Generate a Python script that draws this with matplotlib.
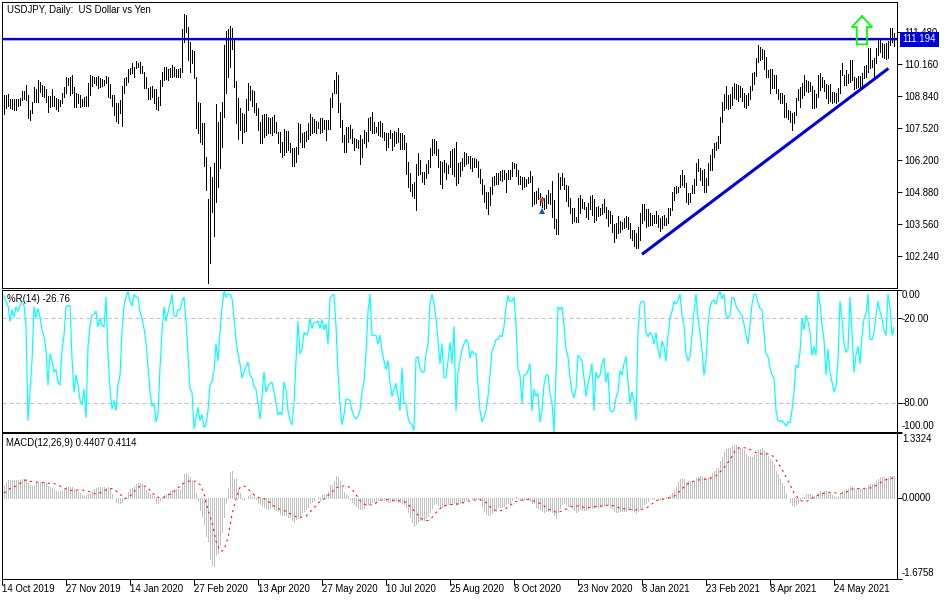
import matplotlib
matplotlib.use("Agg")
import matplotlib.pyplot as plt
import numpy as np

plt.rcParams['font.family'] = ['Liberation Sans', 'DejaVu Sans']

highs_a = [108.88,108.88,108.92,108.73,108.70,108.70,108.73,108.73,108.75,109.05,109.05,109.29,108.88,108.26,108.60,109.19,109.11,109.49,109.42,109.29,
109.25,109.11,108.83,108.83,109.11,108.83,108.74,108.70,108.67,108.94,109.19,109.60,109.56,109.63,109.70,109.19,108.97,108.92,108.88,108.70,
108.78,108.83,109.36,109.70,109.66,109.63,109.63,109.66,109.56,109.52,109.49,109.66,109.60,109.33,108.88,108.88,108.53,108.56,108.67,109.25,
109.56,109.63,109.93,109.97,110.18,110.04,110.27,110.21,110.25,110.07,109.83,109.60,109.15,109.19,109.25,109.11,109.11,108.78,109.49,109.83,
110.01,110.04,109.93,109.97,110.10,110.04,109.93,109.96,109.97,111.57,112.20,112.16,111.66,111.07,110.73,110.70,109.63,108.60,108.53,107.71,
107.74,106.34,104.60,105.93,105.52,106.10,108.51,107.78,108.19,108.60,110.93,111.52,111.57,111.71,111.62,111.14,109.46,108.74,108.33,108.12,
108.09,108.70,109.36,109.25,109.08,109.05,108.53,108.33,107.78,108.05,108.09,108.09,107.99,107.92,107.99,108.05,107.78,107.37,107.37,106.96,
107.47,107.41,107.41,106.89,106.68,106.68,106.75,107.74,107.68,107.30,107.37,107.41,107.71,108.08,107.99,107.88,107.82,107.78]
lows_a = [108.10,108.33,108.42,108.33,108.29,108.26,108.26,108.42,108.45,108.67,108.70,108.67,107.92,107.85,108.15,108.60,108.60,108.60,109.01,108.83,
108.81,108.60,108.19,108.37,108.42,108.42,108.29,108.23,108.42,108.56,108.81,108.94,109.29,108.88,108.94,108.40,108.40,108.53,108.40,108.42,
108.42,108.42,108.42,108.88,109.25,109.36,109.29,109.15,109.22,109.25,109.29,109.36,108.81,108.74,108.42,108.05,107.82,107.74,108.12,107.60,
108.94,109.29,109.42,109.74,109.77,109.63,109.97,110.04,109.77,109.77,109.15,109.15,108.70,108.70,108.81,108.53,108.29,108.26,108.46,109.25,
109.49,109.52,109.49,109.63,109.60,109.66,109.60,109.63,109.63,109.83,111.07,111.48,110.31,109.83,110.18,109.56,107.51,107.33,106.96,106.86,
105.96,104.97,101.16,101.99,104.08,103.08,104.49,105.11,105.86,106.73,107.96,108.94,109.63,110.04,110.75,109.19,107.74,107.05,107.44,106.89,
107.37,107.41,108.26,108.67,108.42,108.19,108.05,107.44,106.92,106.92,107.14,107.23,107.30,107.30,107.23,107.37,107.30,106.92,106.55,106.34,
106.41,106.55,106.62,106.55,105.96,105.96,106.14,106.45,106.96,106.73,106.75,107.00,107.05,107.23,107.30,107.37,107.30,107.51]

highs_b = [107.92,107.92,107.87,107.87,107.85,108.74,108.94,109.49,109.82,109.70,108.53,107.85,107.23,107.55,107.55,107.64,107.46,107.09,107.05,
107.03,107.23,107.05,107.44,107.37,107.92,107.98,108.18,107.78,107.57,107.78,107.82,107.74,107.37,107.30,107.33,107.44,107.33,107.41,107.37,
107.51,107.33,107.30,107.23,106.89,106.13,105.66,105.24,105.31,106.04,106.48,106.20,105.72,105.72,106.04,106.20,106.68,107.05,107.05,107.00,
106.64,106.18,106.13,106.20,106.09,106.00,106.57,106.64,106.68,106.93,106.07,106.13,106.27,106.52,106.48,106.37,106.37,106.29,106.27,106.23,
106.16,105.82,105.41,105.18,104.90,104.90,105.08,105.49,105.55,105.68,105.66,105.77,105.79,105.79,105.66,105.79,105.79,106.12,106.09,106.04,
105.79,105.55,105.49,105.49,105.41,105.49,105.77,105.55,104.90,104.94,105.04,104.86,104.70,104.63,104.77,104.97,104.83,105.35,104.56,103.77,
105.66,105.49,105.66,105.45,105.18,105.14,104.63,104.23,104.23,103.87,104.66,104.77,104.59,104.49,104.29,104.45,104.72,104.77,104.59,104.26,
104.31,104.22,104.40,104.59,104.29,104.15,104.12,103.94,103.57,103.60,103.90,103.71,103.67,103.81,103.90,103.85,103.60,103.33,103.33,103.19,103.46]
lows_b = [107.33,107.37,107.46,107.03,107.46,107.46,108.40,108.97,108.97,108.19,107.57,106.96,106.55,106.55,106.96,107.09,106.92,106.61,106.72,
106.68,106.04,106.34,106.92,106.75,107.00,107.44,107.33,107.30,107.37,107.23,107.19,107.16,107.03,106.61,106.75,107.09,106.61,106.78,106.92,
106.96,106.64,106.64,106.64,105.63,105.11,104.93,104.72,104.64,104.15,105.59,105.63,105.31,105.24,105.45,105.66,105.93,106.41,106.51,106.41,
105.93,105.24,105.07,105.72,105.41,105.68,105.90,105.63,105.55,105.18,105.27,105.55,105.79,105.96,106.04,106.07,105.86,105.75,105.90,105.90,
105.52,105.27,104.81,104.49,104.22,103.98,104.35,104.81,105.18,105.22,105.22,105.38,105.35,105.41,104.90,105.41,105.41,105.55,105.86,105.55,
105.22,105.22,105.03,105.08,105.14,105.27,105.31,104.31,104.40,104.45,104.59,104.35,104.29,104.18,104.22,104.42,104.40,103.87,103.40,103.16,
103.16,105.00,105.18,105.00,104.53,104.31,104.04,103.63,103.71,103.67,103.67,104.04,104.22,104.18,103.87,103.77,104.18,103.94,103.67,103.74,
103.90,103.94,103.98,104.08,103.81,103.49,103.63,103.26,102.83,102.98,103.22,103.26,103.35,103.40,103.44,103.35,102.98,102.92,102.67,102.57,102.57]

highs_c = [104.01,104.40,104.40,104.18,104.18,104.04,103.94,103.94,104.12,103.94,103.81,103.90,103.94,103.81,104.22,104.22,104.90,105.08,105.14,105.11,
105.59,105.79,105.59,105.25,104.83,104.86,105.18,105.41,106.07,106.23,105.86,105.79,105.82,105.45,106.10,106.41,106.64,106.89,106.96,107.19,
107.96,108.60,108.92,109.25,108.88,108.92,109.19,109.36,109.33,109.29,109.25,109.15,108.94,108.88,108.94,109.25,109.79,109.83,110.38,110.93,
110.83,110.75,110.73,110.45,109.90,109.93,109.93,109.70,109.70,109.11,108.97,108.94,108.88,108.56,108.26,108.23,108.15,108.19,108.74,109.11,
109.22,109.36,109.70,109.49,109.47,109.42,109.25,109.08,108.92,109.70,109.77,109.63,109.49,109.33,109.29,109.33,109.01,109.01,108.94,109.15,
109.90,110.20,109.70,109.90,109.74,110.31,110.31,109.60,109.56,109.66,109.66,109.79,110.07,110.11,110.79,110.79,110.31,110.38,110.79,111.14,
111.20,111.00,110.97,111.03,111.11,111.62,111.62,111.41]
lows_c = [102.92,103.60,103.74,103.47,103.49,103.53,103.53,103.60,103.63,103.47,103.30,103.40,103.53,103.53,103.60,103.94,104.15,104.56,104.83,104.90,
105.11,105.18,105.11,104.49,104.40,104.49,104.83,104.86,105.18,105.77,105.38,105.18,104.90,104.90,105.18,105.79,105.79,106.34,106.62,106.68,
106.92,107.78,108.26,108.33,108.29,108.33,108.46,108.74,108.70,108.64,108.81,108.64,108.40,108.33,108.46,108.70,109.08,109.33,109.66,110.25,
110.31,110.34,109.93,109.60,109.60,108.97,109.15,109.15,108.97,108.70,108.53,108.56,107.99,107.96,107.88,107.78,107.44,107.74,108.05,108.67,
108.40,108.74,108.88,109.05,109.01,109.05,108.33,108.33,108.40,108.78,109.08,109.19,109.05,108.74,108.56,108.64,108.53,108.60,108.53,108.64,
108.97,109.70,109.29,109.29,109.36,109.42,109.49,109.11,109.15,109.19,109.15,109.29,109.56,109.60,109.83,109.97,110.04,109.66,110.18,110.52,
110.66,110.45,110.38,110.34,110.38,110.93,111.07,110.89]

highs = highs_a + highs_b + highs_c
lows = lows_a + lows_b + lows_c

wpr_a = [-4,-8,-11,-22,-14,-19,-12,-15,-11,-8,-11,-25,-92,-72,-50,-12,-20,-13,-19,-28,-33,-42,-67,-45,-50,-58,-56,-65,-67,-43,-32,-12,-11,-11,-48,-72,-60,-67,-78,-81,
-70,-90,-40,-25,-18,-17,-15,-26,-20,-25,-26,-5,-45,-70,-84,-78,-85,-67,-60,-30,-11,-5,-1,-8,-11,-3,-5,-5,-15,-20,-27,-37,-55,-72,-82,-80,-93,-88,-55,-30,
-12,-22,-16,-10,-3,-18,-19,-14,-14,-8,-5,-22,-45,-70,-72,-98,-90,-83,-92,-88,-97,-95,-85,-67,-65,-57,-38,-50,-30,-12,-1,-5,-3,-3,-6,-20,-35,-45,-52,-62,
-58,-54,-51,-60,-62,-68,-70,-80,-91,-75,-58,-72,-68,-66,-65,-72,-80,-88,-86,-88,-65,-70,-85,-92,-95,-80,-50,-22,-45,-42,-30,-32,-30,-20,-27,-23,-23,-22]
wpr_b = [-27,-21,-28,-24,-38,-6,-4,-3,-25,-58,-80,-95,-88,-77,-77,-78,-85,-89,-91,-89,-85,-72,-65,-45,-15,-3,-32,-32,-32,-38,-32,-43,-50,-56,-50,-65,-75,-70,-66,-75,
-85,-55,-80,-80,-90,-94,-95,-99,-48,-47,-55,-58,-58,-45,-38,-10,-3,-10,-20,-35,-52,-38,-62,-62,-50,-37,-52,-26,-85,-58,-50,-42,-38,-35,-37,-48,-43,-45,-45,-68,
-85,-93,-90,-85,-75,-60,-43,-40,-35,-35,-32,-33,-26,-12,-4,-8,-8,-5,-25,-56,-60,-80,-60,-60,-57,-52,-85,-70,-75,-73,-93,-85,-67,-60,-60,-73,-80,-100,-60,-12,
-14,-12,-25,-42,-47,-62,-72,-76,-70,-46,-48,-50,-62,-75,-66,-60,-52,-85,-58,-62,-60,-52,-48,-65,-58,-85,-86,-85,-76,-72,-57,-60,-52,-47,-65,-80,-72,-78,-92,-30]
wpr_c = [-10,-8,-8,-30,-33,-30,-32,-38,-30,-42,-48,-36,-40,-50,-32,-20,-15,-8,-10,-7,-3,-18,-25,-45,-50,-47,-32,-15,-3,-20,-30,-42,-60,-50,-25,-12,-8,-7,-10,-4,
-1,-6,-3,-18,-20,-18,-5,-6,-11,-14,-16,-18,-24,-32,-38,-25,-10,-3,-3,-9,-13,-14,-30,-45,-47,-55,-60,-62,-85,-92,-93,-92,-94,-96,-93,-94,-85,-72,-53,-55,
-44,-20,-28,-18,-22,-30,-46,-40,-46,-1,-10,-25,-35,-60,-42,-58,-65,-72,-68,-50,-8,-20,-38,-44,-42,-5,-30,-58,-46,-40,-52,-33,-20,-17,-3,-35,-35,-30,-18,-8,
-15,-20,-28,-32,-3,-12,-32,-26.76]
wpr = wpr_a + wpr_b + wpr_c

hist_a = [.27,.32,.36,.36,.36,.36,.36,.36,.36,.38,.38,.38,.31,.26,.24,.27,.31,.32,.32,.33,.33,.30,.24,.21,.19,.16,.14,.12,.14,.15,.17,.21,.23,.25,.23,.17,.15,.12,.09,.05,
.03,.05,.08,.10,.14,.17,.19,.21,.21,.22,.21,.19,.21,.19,.07,.00,-.08,-.12,-.10,-.08,-.03,-.01,.11,.17,.20,.25,.29,.31,.30,.28,.21,.15,.11,.08,.06,.03,-.10,-.10,-.05,.02,
.06,.08,.10,.13,.15,.17,.17,.17,.15,.30,.48,.50,.47,.42,.37,.33,.10,-.06,-.25,-.38,-.55,-.80,-.90,-1.27,-1.38,-1.40,-1.18,-1.15,-.98,-.70,-.40,-.10,.20,.52,.54,.38,.38,.18,.10,-.03,
-.05,-.01,.04,.06,.02,.05,-.02,-.10,-.13,-.18,-.20,-.22,-.23,-.22,-.20,-.23,-.25,-.28,-.32,-.35,-.36,-.36,-.39,-.40,-.46,-.50,-.43,-.42,-.37,-.30,-.27,-.23,-.20,-.12,-.08,-.04,.00,.02]
hist_b = [-.05,.05,.07,.08,.12,.26,.27,.34,.44,.43,.34,.21,.12,.05,.03,-.03,-.09,-.14,-.17,-.22,-.24,-.23,-.22,-.16,-.14,-.10,-.08,-.09,-.09,-.05,-.03,-.03,-.05,-.06,-.08,-.08,-.07,-.06,-.07,-.08,
-.09,-.10,-.13,-.19,-.29,-.39,-.50,-.58,-.55,-.50,-.47,-.46,-.45,-.42,-.38,-.30,-.22,-.13,-.10,-.15,-.20,-.19,-.17,-.15,-.14,-.13,-.13,-.12,-.15,-.13,-.11,-.10,-.07,-.05,-.03,-.01,-.03,-.03,-.02,-.03,
-.05,-.18,-.28,-.34,-.36,-.36,-.32,-.28,-.27,-.20,-.19,-.20,-.17,-.14,-.12,-.10,-.04,-.01,.01,-.02,-.04,-.05,-.05,-.03,-.02,-.06,-.10,-.12,-.19,-.21,-.23,-.27,-.29,-.28,-.27,-.28,-.29,-.35,-.42,-.30,
-.21,-.14,-.11,-.13,-.18,-.18,-.22,-.25,-.29,-.27,-.24,-.26,-.26,-.25,-.23,-.20,-.22,-.22,-.20,-.19,-.19,-.20,-.18,-.16,-.16,-.19,-.22,-.28,-.29,-.29,-.28,-.28,-.27,-.27,-.25,-.24,-.26,-.27,-.31,-.27]
hist_c = [-.22,-.19,-.14,-.10,-.07,-.01,-.02,-.03,.00,-.02,-.04,-.02,.00,.01,.02,.05,.10,.15,.21,.32,.38,.40,.39,.33,.34,.35,.34,.34,.40,.43,.45,.45,.43,.41,.41,.45,.50,.55,.59,.62,
.75,.83,.95,1.00,1.02,1.03,1.07,1.08,1.08,1.05,1.03,1.00,.98,.89,.85,.83,.84,.87,.90,.99,1.00,1.02,.98,.95,.85,.80,.76,.68,.55,.48,.38,.30,.25,.07,.00,-.09,-.16,-.17,-.15,-.12,
-.03,.01,.02,.07,.08,.08,.06,.03,.04,.10,.14,.12,.14,.13,.10,.10,.06,.03,.01,.04,.07,.13,.15,.17,.18,.24,.22,.19,.18,.19,.17,.17,.18,.19,.27,.29,.29,.30,.34,.39,
.42,.42,.42,.40,.40,.44,.44,.44]
macd_hist = hist_a + hist_b + hist_c

sig_a = [.10,.12,.15,.19,.20,.22,.24,.26,.29,.33,.36,.36,.35,.34,.33,.32,.32,.32,.31,.31,.31,.30,.30,.29,.29,.29,.28,.26,.24,.22,.20,.18,.16,.15,.15,.15,.15,.16,.16,.16,
.15,.14,.13,.12,.10,.08,.08,.08,.10,.13,.14,.16,.17,.18,.19,.18,.14,.10,.07,.03,.01,-.02,.00,.03,.07,.12,.17,.20,.24,.24,.24,.23,.20,.15,.10,.07,.02,.01,.00,.00,
.01,.04,.06,.07,.10,.13,.15,.20,.24,.27,.30,.33,.34,.34,.34,.34,.34,.30,.27,.18,.08,-.10,-.25,-.38,-.52,-.70,-.90,-1.00,-1.09,-1.10,-1.08,-.96,-.82,-.58,-.35,-.18,-.03,.10,.21,.24,
.24,.22,.18,.14,.10,.06,.03,.01,-.01,-.02,-.02,-.04,-.07,-.10,-.14,-.17,-.20,-.22,-.24,-.25,-.26,-.29,-.31,-.33,-.35,-.37,-.39,-.41,-.41,-.40,-.39,-.38,-.34,-.30,-.25,-.21,-.16,-.12]
sig_b = [-.08,-.05,-.03,.01,.05,.07,.12,.15,.19,.22,.24,.24,.24,.24,.24,.20,.17,.12,.07,.00,-.06,-.10,-.13,-.15,-.16,-.15,-.15,-.14,-.11,-.09,-.06,-.05,-.04,-.04,-.04,-.05,-.05,-.06,-.06,-.06,
-.07,-.07,-.08,-.10,-.14,-.18,-.22,-.27,-.31,-.36,-.42,-.44,-.46,-.47,-.47,-.44,-.41,-.36,-.31,-.26,-.23,-.19,-.17,-.16,-.15,-.14,-.14,-.14,-.13,-.13,-.12,-.11,-.10,-.08,-.07,-.07,-.06,-.05,-.05,-.04,
-.04,-.06,-.08,-.10,-.15,-.19,-.22,-.25,-.26,-.27,-.27,-.26,-.24,-.22,-.19,-.16,-.13,-.10,-.08,-.07,-.06,-.05,-.04,-.04,-.04,-.04,-.06,-.07,-.09,-.10,-.12,-.14,-.17,-.20,-.23,-.25,-.26,-.28,-.30,-.31,
-.29,-.27,-.25,-.24,-.22,-.20,-.18,-.17,-.17,-.17,-.18,-.19,-.20,-.21,-.21,-.20,-.19,-.19,-.18,-.18,-.17,-.17,-.16,-.16,-.15,-.15,-.16,-.17,-.19,-.20,-.21,-.22,-.23,-.24,-.24,-.24,-.25,-.25,-.25,-.25]
sig_c = [-.24,-.24,-.23,-.21,-.19,-.17,-.13,-.09,-.06,-.05,-.04,-.03,-.03,-.02,-.01,.00,.01,.03,.06,.10,.14,.18,.22,.26,.29,.32,.33,.34,.35,.36,.37,.37,.38,.38,.39,.40,.41,.43,.45,.48,
.53,.57,.62,.67,.73,.79,.85,.93,.99,1.02,1.03,1.03,1.03,1.02,1.01,.99,.97,.95,.93,.91,.91,.90,.90,.90,.90,.90,.87,.83,.78,.72,.65,.58,.50,.43,.35,.27,.19,.10,.05,-.01,
-.05,-.07,-.08,-.08,-.06,-.04,-.01,.01,.03,.05,.07,.08,.09,.10,.11,.11,.11,.10,.10,.09,.09,.09,.10,.11,.13,.15,.18,.18,.18,.19,.19,.19,.19,.20,.20,.20,.21,.23,.25,.27,
.30,.33,.35,.37,.38,.39,.40,.41]
macd_signal = sig_a + sig_b + sig_c

date_labels = ['14 Oct 2019','27 Nov 2019','14 Jan 2020','27 Feb 2020','13 Apr 2020','27 May 2020','10 Jul 2020',
               '25 Aug 2020','8 Oct 2020','23 Nov 2020','8 Jan 2021','23 Feb 2021','8 Apr 2021','24 May 2021']
date_idx = [-1 + 32*k for k in range(14)]
price_ticks = [111.48,110.16,108.84,107.52,106.20,104.88,103.56,102.24]
last_price = 111.194
trend_x = [319, 442.2]
trend_y = [102.33, 109.97]
wpr_ticks = [0,-20,-80,-100]
macd_max, macd_min = 1.3324, -1.6758

W, H = 950, 600
fig = plt.figure(figsize=(9.5, 6), dpi=100, facecolor='white')
def mk(top, bot, left=2, right=897):
    ax = fig.add_axes([left/W, 1-bot/H, (right-left)/W, (bot-top)/H])
    ax.set_xlim(-1, 446.5)
    ax.set_xticks([]); ax.yaxis.tick_right()
    for s in ax.spines.values():
        s.set_linewidth(0.72); s.set_color('black')
    ax.tick_params(axis='y', length=3.5, width=0.72, pad=2, labelsize=6.9, colors='black')
    return ax

FS = 6.9
ax1 = mk(2, 288)
ax2 = mk(290, 431.7)
ax3 = mk(433, 579)

x = np.arange(len(highs))
ax1.set_ylim(100.945, 112.70)
ax1.axhline(last_price-0.045, color='#c0c0c0', lw=0.72, zorder=1)
ax1.vlines(x, lows, highs, colors='black', lw=0.6, antialiased=False, zorder=2)
ax1.axhline(last_price, color='#0000dd', lw=1.6, zorder=3)
ax1.plot(trend_x, trend_y, color='#0000dd', lw=2.2, zorder=3, solid_capstyle='butt')
ax1.set_yticks(price_ticks)
ax1.set_yticklabels([f'{t:.3f}' for t in price_ticks], fontsize=FS)
ax1.text(7/W, 1-10/H, 'USDJPY, Daily:  US Dollar vs Yen', transform=fig.transFigure, fontsize=FS, va='center', ha='left')
ax1.plot([429,423.9,426.4,426.4,431.5,431.5,434.1,429],
         [112.11,111.67,111.67,110.96,110.96,111.67,111.67,112.11],
         color='#00ff00', lw=1.3, zorder=4, solid_joinstyle='miter')
ax1.plot([269,269],[104.15,104.55], color='black', lw=0.7, ls=(0,(1,2)), zorder=4)
ax1.plot([269],[104.53], marker='v', color='#e5451f', ms=5, zorder=5, ls='none', mew=0)
ax1.plot([269],[104.13], marker='^', color='#0b5ca8', ms=5, zorder=5, ls='none', mew=0)
fig.text(919.5/W, 1-39.5/H, f'{last_price:.3f}', color='white', fontsize=FS, ha='center', va='center', zorder=10,
         bbox=dict(boxstyle='square,pad=0.28', fc='#0000dd', ec='#0000dd', lw=0))

ax2.set_ylim(-100, 0)
ax2.axhline(-20, color='#c0c0c0', lw=0.72, ls=(0,(4,3)), zorder=1)
ax2.axhline(-80, color='#c0c0c0', lw=0.72, ls=(0,(4,3)), zorder=1)
ax2.plot(np.arange(len(wpr)), wpr, color='#00ffff', lw=0.85, zorder=2)
ax2.set_yticks(wpr_ticks)
ax2.set_yticklabels([])
ys = {0:295.5, -20:318.5, -80:403.5, -100:426}
for t in wpr_ticks:
    fig.text(902/W, 1-ys[t]/H, f'{t:.2f}', fontsize=FS, va='center', ha='left')
fig.text(7/W, 1-299.5/H, '%R(14) -26.76', fontsize=FS, va='center', ha='left', zorder=10)

ax3.set_ylim(macd_min, macd_max)
ax3.vlines(np.arange(len(macd_hist)), 0, macd_hist, colors='#c0c0c0', lw=0.6, antialiased=False, zorder=1)
ax3.plot(np.arange(len(macd_signal)), macd_signal, color='red', lw=0.72, ls=(0,(2.2,3.8)), zorder=2)
ax3.set_yticks([macd_max, 0, macd_min])
ax3.set_yticklabels([])
for v, y, s in [(macd_max, 438.5, '1.3324'), (0, 497.8, '0.0000'), (macd_min, 573.5, '-1.6758')]:
    fig.text(902/W, 1-y/H, s, fontsize=FS, va='center', ha='left')
fig.text(6/W, 1-442.5/H, 'MACD(12,26,9) 0.4407 0.4114', fontsize=FS, va='center', ha='left', zorder=10)

ax3.set_xticks([d + 0.15 for d in date_idx])
ax3.set_xticklabels([])
ax3.tick_params(axis='x', length=4.5, width=0.72, direction='out', bottom=True)
for d, lab in zip(date_idx, date_labels):
    fig.text((2.3 + (d+1)*2)/W, 1-588.5/H, lab, fontsize=FS, va='center', ha='left')

fig.savefig('out.png', dpi=100)
